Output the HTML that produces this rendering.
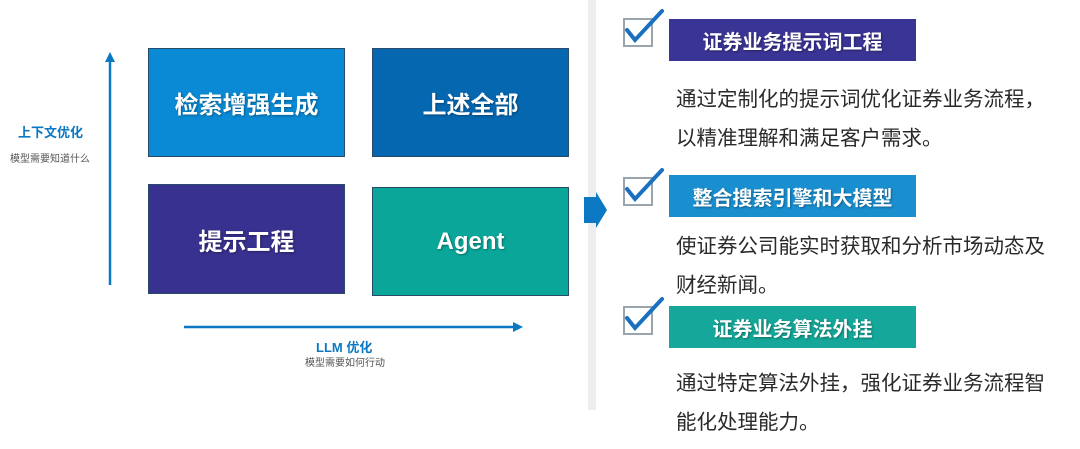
<!DOCTYPE html>
<html><head><meta charset="utf-8"><style>
body{margin:0;width:1080px;height:449px;background:#fff;position:relative;overflow:hidden;font-family:"Liberation Sans","Noto Sans CJK SC",sans-serif}
.a{position:absolute}
.box{position:absolute;color:#fff;font-weight:bold;font-size:24px;display:flex;align-items:center;justify-content:center;border:1px solid #2a4a6a;box-sizing:border-box;text-shadow:1px 1px 2px rgba(0,0,0,.35)}
.bar{position:absolute;left:669px;width:247px;height:42px;color:#fff;font-weight:bold;font-size:20px;display:flex;align-items:center;justify-content:center;text-shadow:1px 1px 2px rgba(0,0,0,.35)}
.desc{position:absolute;left:676px;font-size:20.5px;color:#2a2a2a;line-height:39px;white-space:nowrap}
.cb{position:absolute;left:623px;width:26px;height:25px;border:2px solid #9aa4ad}
</style></head><body>
<div class="box" style="left:148px;top:48px;width:197px;height:109px;background:#0a8ad4">检索增强生成</div>
<div class="box" style="left:372px;top:48px;width:197px;height:109px;background:#0567b0">上述全部</div>
<div class="box" style="left:148px;top:184px;width:197px;height:110px;background:#38318f">提示工程</div>
<div class="box" style="left:372px;top:187px;width:197px;height:109px;background:#0aa69a">Agent</div>
<svg class="a" style="left:0;top:0" width="600" height="449">
<line x1="110" y1="285" x2="110" y2="60" stroke="#0a78c2" stroke-width="2.5"/>
<polygon points="105,62 115,62 110,52" fill="#0a78c2"/>
<line x1="184" y1="327" x2="515" y2="327" stroke="#0a78c2" stroke-width="2.5"/>
<polygon points="513,322 513,332 523,327" fill="#0a78c2"/>
</svg>
<div class="a" style="left:588px;top:0;width:8px;height:410px;background:#eceef0"></div>
<svg class="a" style="left:584px;top:0" width="24" height="449"><polygon points="0,197 12,197 12,192 23,210 12,228 12,223 0,223" fill="#0a78c2"/></svg>
<div class="a" style="left:18px;top:122px;font-size:13px;font-weight:bold;color:#0a78c2">上下文优化</div>
<div class="a" style="left:10px;top:150px;font-size:10px;color:#555">模型需要知道什么</div>
<div class="a" style="left:316px;top:337px;font-size:13px;font-weight:bold;color:#0a78c2">LLM 优化</div>
<div class="a" style="left:305px;top:354px;font-size:10px;color:#555">模型需要如何行动</div>

<div class="cb" style="top:18px"></div>
<div class="cb" style="top:177px"></div>
<div class="cb" style="top:306px"></div>
<svg class="a" style="left:620px;top:0" width="50" height="449" fill="none" stroke="#1a6fc0" stroke-width="4" stroke-linecap="round">
<polyline points="7,30 15,40 42,11"/>
<polyline points="7,189 15,199 42,170"/>
<polyline points="7,318 15,328 42,299"/>
</svg>
<div class="bar" style="top:19px;background:#3a3495">证券业务提示词工程</div>
<div class="desc" style="top:80px">通过定制化的提示词优化证券业务流程，<br>以精准理解和满足客户需求。</div>
<div class="bar" style="top:175px;background:#1a8fd0">整合搜索引擎和大模型</div>
<div class="desc" style="top:227px">使证券公司能实时获取和分析市场动态及<br>财经新闻。</div>
<div class="bar" style="top:306px;background:#15a89a">证券业务算法外挂</div>
<div class="desc" style="top:364px">通过特定算法外挂，强化证券业务流程智<br>能化处理能力。</div>
</body></html>
